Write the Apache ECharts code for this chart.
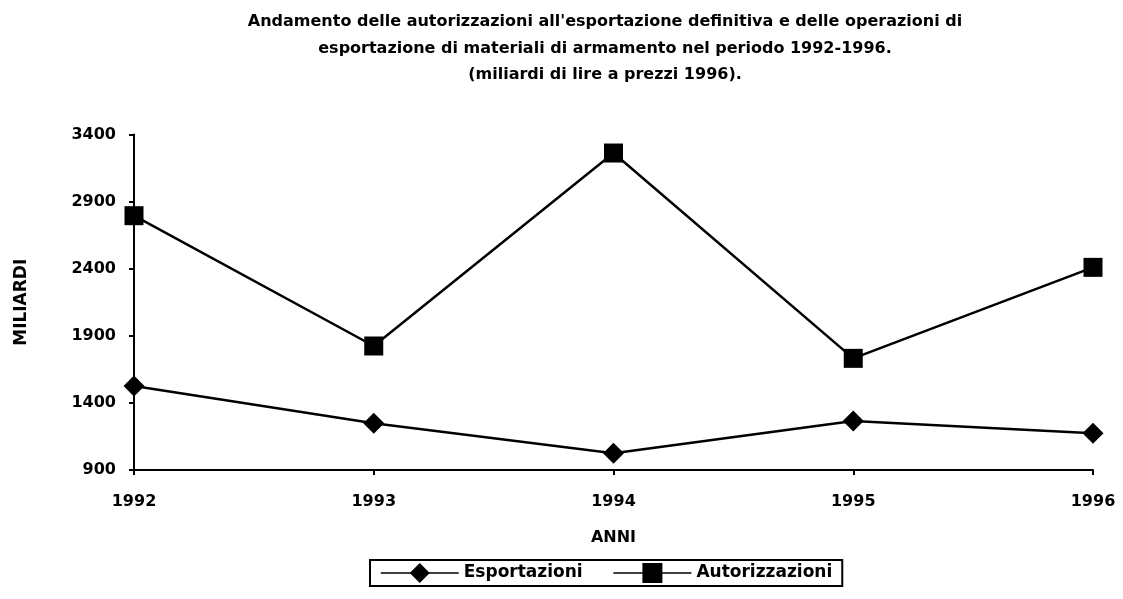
<!DOCTYPE html>
<html><head><meta charset="utf-8">
<script src="https://cdn.jsdelivr.net/npm/echarts@6/dist/echarts.min.js"></script>
<style>html,body{margin:0;padding:0;background:#fff}#c{width:1123px;height:599px}</style>
</head><body><div id="c"></div>
<script>
const titleLines = [
  "Andamento delle autorizzazioni all'esportazione definitiva e delle operazioni di",
  "esportazione di materiali di armamento nel periodo 1992-1996.",
  "(miliardi di lire a prezzi 1996)."
];
const categories = ["1992", "1993", "1994", "1995", "1996"];
const esportazioni = [1526, 1248, 1024, 1265, 1173];
const autorizzazioni = [2795, 1824, 3262, 1732, 2410];
const yMin = 900, yMax = 3400, yStep = 500;
const FONT = '"DejaVu Sans", "Liberation Sans", Arial, sans-serif';

const chart = echarts.init(document.getElementById('c'), null, {renderer: 'canvas'});
chart.setOption({
  backgroundColor: '#fff',
  animation: false,
  title: {
    text: titleLines.join('\n'),
    left: 600, textAlign: 'center', top: 4,
    textStyle: {fontFamily: FONT, fontWeight: 'bold', fontSize: 16, lineHeight: 26.5, color: '#000'}
  },
  legend: {
    left: 370, top: 560,
    itemWidth: 78, itemHeight: 25, itemGap: 30,
    padding: [3, 10, 3, 10],
    borderColor: '#000', borderWidth: 2,
    lineStyle: {width: 1.5},
    textStyle: {fontFamily: FONT, fontWeight: 'bold', fontSize: 17, color: '#000'},
    data: ['Esportazioni', 'Autorizzazioni']
  },
  grid: {left: 134, right: 30, top: 134.5, bottom: 129, containLabel: false},
  xAxis: {
    type: 'category', data: categories, boundaryGap: false,
    name: 'ANNI', nameLocation: 'middle', nameGap: 60,
    nameTextStyle: {fontFamily: FONT, fontWeight: 'bold', fontSize: 16, color: '#000'},
    axisLine: {lineStyle: {color: '#000', width: 2}},
    axisTick: {show: true, length: 5, lineStyle: {color: '#000', width: 2}, alignWithLabel: true},
    axisLabel: {fontFamily: FONT, fontWeight: 'bold', fontSize: 16, color: '#000', margin: 24}
  },
  yAxis: {
    type: 'value', min: yMin, max: yMax, interval: yStep,
    name: 'MILIARDI', nameLocation: 'middle', nameGap: 104, nameRotate: 90,
    nameTextStyle: {fontFamily: FONT, fontWeight: 'bold', fontSize: 17, color: '#000'},
    axisLine: {show: true, lineStyle: {color: '#000', width: 2}},
    axisTick: {show: true, length: 5, lineStyle: {color: '#000', width: 2}},
    splitLine: {show: false},
    axisLabel: {fontFamily: FONT, fontWeight: 'bold', fontSize: 16, color: '#000', margin: 18,
      formatter: function (v) { return String(v); }}
  },
  series: [
    {
      name: 'Esportazioni', type: 'line', data: esportazioni,
      symbol: 'diamond', symbolSize: 21,
      lineStyle: {color: '#000', width: 2.5},
      itemStyle: {color: '#000'}
    },
    {
      name: 'Autorizzazioni', type: 'line', data: autorizzazioni,
      symbol: 'rect', symbolSize: 19,
      lineStyle: {color: '#000', width: 2.5},
      itemStyle: {color: '#000'}
    }
  ]
});
</script></body></html>
